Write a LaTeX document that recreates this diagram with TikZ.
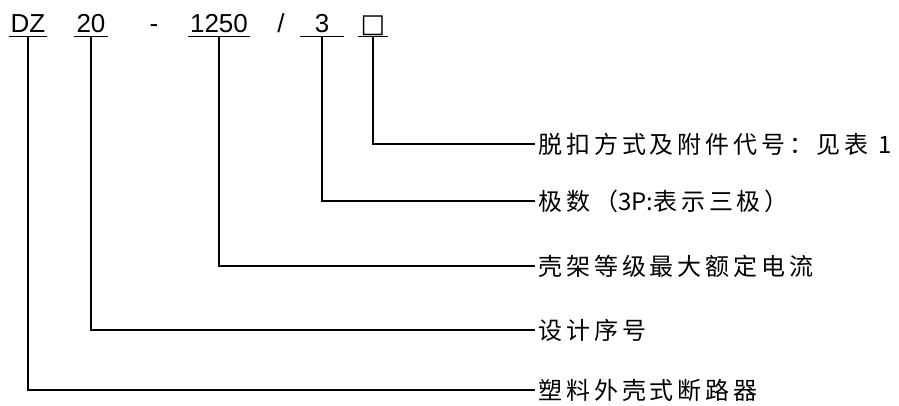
\documentclass[tikz,border=0pt]{standalone}
\usepackage{fontspec}
\setmainfont{Liberation Sans}
\newfontfamily\cjk{Noto Sans CJK SC}[LetterSpace=16]
\newfontfamily\symb{DejaVu Sans}
\begin{document}
\begin{tikzpicture}[
        x=1pt, y=-1pt, line width=1.1pt,
        code/.style={anchor=base, font=\fontsize{26}{26}\selectfont, inner xsep=1.5pt, inner ysep=4pt, text depth=0pt},
        desc/.style={anchor=west, inner xsep=3pt, font=\cjk\fontsize{24}{24}\selectfont}
    ]
        \useasboundingbox (0,0) rectangle (899,405);

        % model code
        \node (type) at (28,32) [code] {DZ};
        \node (serial) at (91,32) [code] {20};
        \node (dash) at (154,32) [code] {-};
        \node (current) at (219,32) [code] {1250};
        \node (slash) at (281,32) [code] {/};
        \node (poles) at (322,32) [code, minimum width=43pt] {3};
        \node (release) at (373,32) [code, minimum width=28pt] {\symb □};

        \foreach \n in {type,serial,current,poles,release}
            \draw (\n.south west) -- (\n.south east);

        % meanings
        \node (releasetxt) at (535,144) [desc] {脱扣方式及附件代号：见表 1};
        \node (polestxt) at (535,201) [desc] {极数（{\addfontfeature{LetterSpace=0}3P:}表示三极）};
        \node (currenttxt) at (535,266) [desc] {壳架等级最大额定电流};
        \node (serialtxt) at (535,330) [desc] {设计序号};
        \node (typetxt) at (535,390) [desc] {塑料外壳式断路器};

        \draw (release.south) |- (releasetxt.west);
        \draw (poles.south) |- (polestxt.west);
        \draw (current.south) |- (currenttxt.west);
        \draw (serial.south) |- (serialtxt.west);
        \draw (type.south) |- (typetxt.west);
    \end{tikzpicture}
\end{document}
